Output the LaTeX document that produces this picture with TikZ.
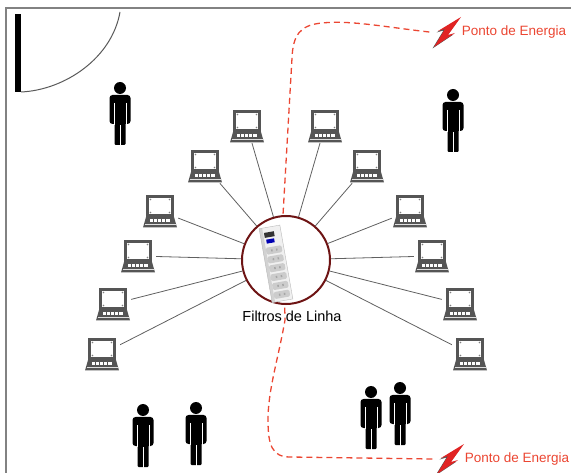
\documentclass[tikz,border=0pt]{standalone}
\usepackage{fontspec}
\setmainfont{Liberation Sans}
\usetikzlibrary{positioning}

\definecolor{vinho}{RGB}{110,20,20}
\definecolor{cabovermelho}{RGB}{235,70,50}
\definecolor{raiovermelho}{RGB}{225,35,35}
\definecolor{telaescura}{RGB}{85,85,85}
\definecolor{moldura}{RGB}{130,130,130}

% boneco preto (cabeca na origem, y para baixo)
\tikzset{
  pessoa/.pic={
    \fill[black] (0,0) circle (6pt);
    \fill[black, rounded corners=3pt] (-10.5,7) rectangle (10.5,36);
    \fill[black, rounded corners=1pt] (-5.5,30) rectangle (5.5,57);
    \draw[white, line width=0.9pt] (-6,15) -- (-6,37) (6,15) -- (6,37) (0,37) -- (0,58);
  },
  % raio com sombra escura (centro na origem)
  raio/.pic={
    \fill[telaescura] (12.5,-13.5) -- (-0.5,4.5) -- (6.5,2.5) -- (-14.5,16.5)
      -- (-3.5,-1.5) -- (-10.5,0.5) -- cycle;
    \fill[raiovermelho] (14,-15) -- (1,3) -- (8,1) -- (-13,15)
      -- (-2,-3) -- (-9,-1) -- cycle;
  }
}

\begin{document}
\begin{tikzpicture}[
    x=1pt, y=-1pt,
    laptop/.style={minimum width=36pt, minimum height=34pt, inner sep=0pt,
      path picture={
        \begin{scope}[shift={(path picture bounding box.center)}]
          \fill[telaescura] (-14,-16) rectangle (14,6);
          \fill[white] (-11,-13) rectangle (11,3);
          \foreach \cx/\cy in {-9.5/-11.5, 9.5/-11.5, -9.5/1.5, 9.5/1.5}
            \fill[gray] (\cx,\cy) circle (0.8pt);
          \fill[telaescura] (-14,6) -- (14,6) -- (17,16.5) -- (-17,16.5) -- cycle;
          \foreach \k in {-10.5,-6.3,...,9}
            \fill[white] (\k,8.5) rectangle ++(3.3,3);
          \fill[gray!25] (-15.5,13.2) rectangle (15.5,14.3);
        \end{scope}}},
    tomada/.style={minimum size=31pt, inner sep=0pt},
    energia/.style={text=cabovermelho, font=\fontsize{13.5}{16}\selectfont, inner sep=0pt},
    cabo/.style={cabovermelho, line width=1.3pt, dash pattern=on 6pt off 4pt},
    ligacao/.style={draw=gray!75!black, line width=0.8pt}
]
    \useasboundingbox (0,0) rectangle (571,473);

    % moldura e porta
    \draw[moldura, line width=1.5pt] (6,473) -- (6,8) -- (571,8);
    \fill[black] (15,14) rectangle (21,92);
    \draw[gray!70!black, line width=1pt] (21,92) .. controls (65,90) and (112,58) .. (120,12);

    % pontos de energia
    \node[tomada] (raioA) at (447,32) {};
    \pic at (raioA) {raio};
    \node[energia, right=-1pt of raioA] {Ponto de Energia};
    \node[tomada] (raioB) at (450,459) {};
    \pic at (raioB) {raio};
    \node[energia, right=-1pt of raioB] {Ponto de Energia};

    % cabo tracejado
    \draw[cabo] ([xshift=-2pt]raioA.west) .. controls (385,27) and (350,20) .. (322,23)
        .. controls (300,25) and (293,35) .. (292,58) -- (283,215) -- (285,320)
        .. controls (278,360) and (268,390) .. (268,420)
        .. controls (268,445) and (272,457) .. (290,457) -- ([xshift=-2pt]raioB.west);

    % filtro de linha (centro)
    \node[circle, draw=vinho, line width=2pt, fill=white, minimum size=88pt] (filtro) at (286,260) {};
    \begin{scope}[shift={(269,227)}, rotate=10]
      \fill[gray!12] (-10,0) rectangle (11,75);
      \fill[gray!35] (-10,0) rectangle (-7,75);
      \draw[gray!55] (-10,0) rectangle (11,75);
      \fill[black!80] (-6,5) rectangle (4,10);
      \fill[blue!70!black] (-5,12) rectangle (3,16);
      \foreach \s in {0,...,5} {
        \fill[gray!40, rounded corners=1.5pt] (-7,20+\s*9) rectangle (9,27+\s*9);
        \fill[gray!70] (-2,22.5+\s*9) rectangle (-0.5,24.5+\s*9);
        \fill[gray!70] (3,22.5+\s*9) rectangle (4.5,24.5+\s*9);
      }
    \end{scope}
    \node[font=\fontsize{14.5}{17}\selectfont, inner sep=0pt] (rotulo) at (292,316) {Filtros de Linha};

    % computadores (esquerda)
    \node[laptop] (e1) at (247,126) {};
    \node[laptop] (e2) at (205,166) {};
    \node[laptop] (e3) at (160,211) {};
    \node[laptop] (e4) at (138,256) {};
    \node[laptop] (e5) at (113,304) {};
    \node[laptop] (e6) at (102,354) {};

    % computadores (direita)
    \node[laptop] (d1) at (325,126) {};
    \node[laptop] (d2) at (367,166) {};
    \node[laptop] (d3) at (410,211) {};
    \node[laptop] (d4) at (432,256) {};
    \node[laptop] (d5) at (460,304) {};
    \node[laptop] (d6) at (470,354) {};

    % ligacoes ao filtro
    \foreach \p in {e1,e2,e3,e4,e5,e6,d1,d2,d3,d4,d5,d6}
      \draw[ligacao] (\p) -- (filtro);

    % pessoas
    \pic at (120,88) {pessoa};
    \pic at (453,95) {pessoa};
    \pic at (143,410) {pessoa};
    \pic at (196,408) {pessoa};
    \pic at (371,392) {pessoa};
    \pic at (400,388) {pessoa};
\end{tikzpicture}
\end{document}
